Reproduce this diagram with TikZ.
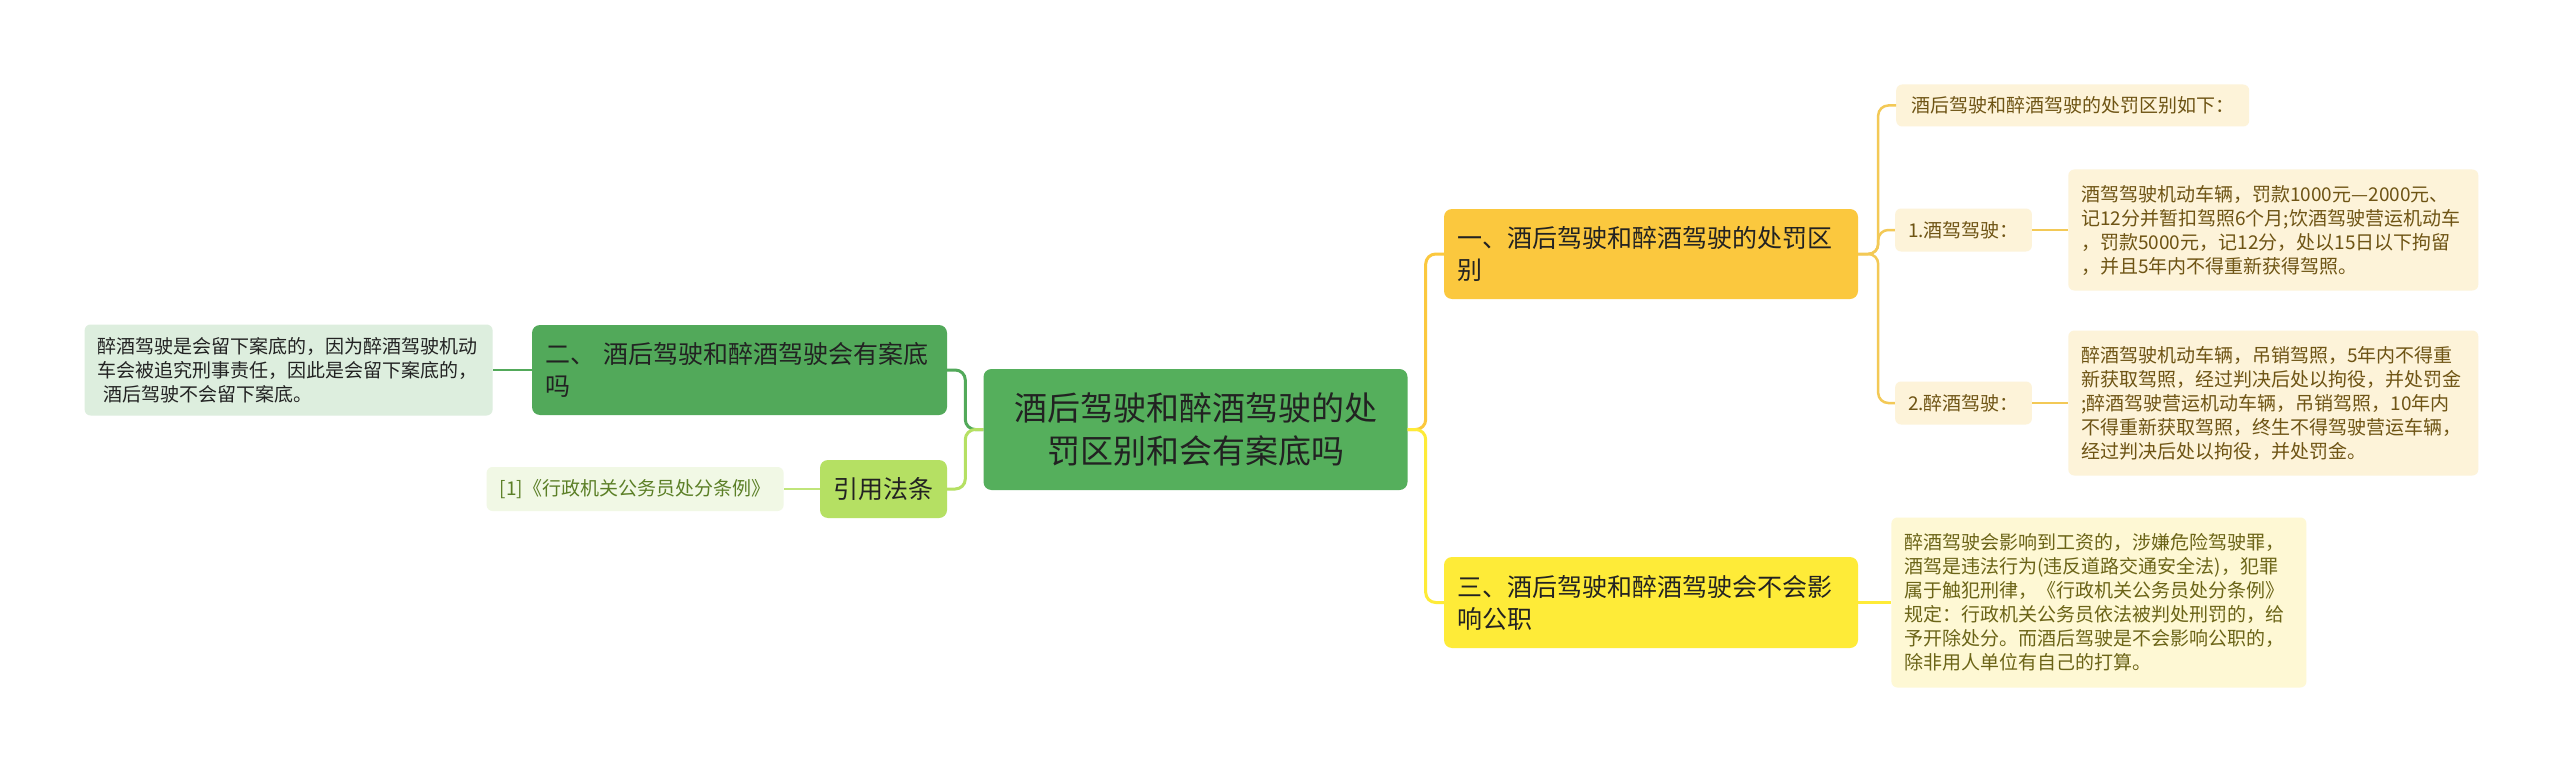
\documentclass[tikz,border=0pt]{standalone}
\usepackage{fontspec}
\newfontfamily\cjkfont{Noto Sans CJK SC}
\usetikzlibrary{positioning}

\definecolor{rootgreen}{HTML}{55AF5C}
\definecolor{secgreen}{HTML}{52A95A}
\definecolor{leafgreen}{HTML}{DDEEDE}
\definecolor{citegreen}{HTML}{B5E063}
\definecolor{citeleaf}{HTML}{F1F8E5}
\definecolor{citetext}{HTML}{5B7F26}
\definecolor{secorange}{HTML}{FBC83E}
\definecolor{secyellow}{HTML}{FEEB38}
\definecolor{creamleaf}{HTML}{FDF3D9}
\definecolor{creamtext}{HTML}{6E5414}
\definecolor{paleyellow}{HTML}{FEF8D4}
\definecolor{paletext}{HTML}{6B6417}
\definecolor{textdark}{HTML}{222222}
\definecolor{orangeline}{HTML}{F3C956}

\begin{document}
\begin{tikzpicture}[
  x=1pt, y=-1pt,
  node distance = 36pt,
  basebox/.style={rounded corners=8pt, inner xsep=13pt, inner ysep=0pt, text=textdark},
  bigfont/.style={font=\cjkfont\fontsize{33}{43}\selectfont},
  midfont/.style={font=\cjkfont\fontsize{25}{32}\selectfont},
  smallfont/.style={font=\cjkfont\fontsize{19}{24}\selectfont},
  rootnode/.style={basebox, bigfont, fill=rootgreen, align=center, text width=398pt, minimum height=121pt},
  secnode/.style={basebox, midfont, align=left, text width=388pt, minimum height=90pt},
  citenode/.style={basebox, midfont, fill=citegreen, minimum width=127pt, minimum height=58pt},
  leafnode/.style={basebox, smallfont, rounded corners=6pt},
  textleaf/.style={leafnode, align=left, text width=384pt},
  conn/.style={-, line width=3pt, rounded corners=10pt},
  thinconn/.style={-, line width=2.5pt, rounded corners=10pt}
  ]

\useasboundingbox [fill=white] (0,0) rectangle (2560,773);

\node [rootnode] (root) at (1195.5,429.5) {酒后驾驶和醉酒驾驶的处\\罚区别和会有案底吗};

\node [secnode, fill=secorange] (sec1) at (1651,254) {一、酒后驾驶和醉酒驾驶的处罚区\\别};
\node [secnode, fill=secyellow, minimum height=91pt] (sec3) at (1651,602.5) {三、酒后驾驶和醉酒驾驶会不会影\\响公职};
\node [secnode, fill=secgreen, text width=389pt] (sec2) at (739.5,370) {二、 酒后驾驶和醉酒驾驶会有案底\\吗};
\node [citenode] (cite) at (883.5,489) {引用法条};

\node [leafnode, fill=creamleaf, text=creamtext, minimum width=353pt, minimum height=42pt, anchor=west] (intro) at (1896,105.5) {酒后驾驶和醉酒驾驶的处罚区别如下：};
\node [leafnode, fill=creamleaf, text=creamtext, minimum width=133pt, minimum height=43pt] (drunk1) at (1963.5,230) {1.酒驾驾驶：};
\node [leafnode, fill=creamleaf, text=creamtext, minimum width=133pt, minimum height=43pt] (drunk2) at (1963.5,403) {2.醉酒驾驶：};

\node [textleaf, fill=creamleaf, text=creamtext, minimum height=121pt, right=36pt of drunk1] (detail1) {酒驾驾驶机动车辆，罚款1000元—2000元、\\记12分并暂扣驾照6个月;饮酒驾驶营运机动车\\，罚款5000元，记12分，处以15日以下拘留\\，并且5年内不得重新获得驾照。};
\node [textleaf, fill=creamleaf, text=creamtext, minimum height=145pt, right=36pt of drunk2] (detail2) {醉酒驾驶机动车辆，吊销驾照，5年内不得重\\新获取驾照，经过判决后处以拘役，并处罚金\\;醉酒驾驶营运机动车辆，吊销驾照，10年内\\不得重新获取驾照，终生不得驾驶营运车辆，\\经过判决后处以拘役，并处罚金。};
\node [textleaf, fill=paleyellow, text=paletext, text width=389pt, minimum height=170pt, right=33pt of sec3] (detail3) {醉酒驾驶会影响到工资的，涉嫌危险驾驶罪，\\酒驾是违法行为(违反道路交通安全法)，犯罪\\属于触犯刑律，《行政机关公务员处分条例》\\规定：行政机关公务员依法被判处刑罚的，给\\予开除处分。而酒后驾驶是不会影响公职的，\\除非用人单位有自己的打算。};

\node [textleaf, fill=leafgreen, text width=382pt, minimum height=91pt, left=39pt of sec2] (record) {醉酒驾驶是会留下案底的，因为醉酒驾驶机动\\车会被追究刑事责任，因此是会留下案底的，\\\hspace*{6pt}酒后驾驶不会留下案底。};
\node [leafnode, fill=citeleaf, text=citetext, minimum width=297pt, minimum height=44pt, left=36pt of cite] (law) {[1]《行政机关公务员处分条例》};

\draw [conn, draw=secgreen] (root.west) -- ++(-18,0) |- (sec2.east);
\draw [conn, draw=citegreen] (root.west) -- ++(-18,0) |- (cite.east);
\draw [conn, draw=secorange] (root.east) -- ++(18,0) |- (sec1.west);
\draw [conn, draw=secyellow] (root.east) -- ++(18,0) |- (sec3.west);

\draw [thinconn, draw=secgreen] (sec2.west) -- (record.east);
\draw [thinconn, draw=citegreen!85!white] (cite.west) -- (law.east);
\draw [thinconn, draw=secyellow] (sec3.east) -- (detail3.west);

\draw [thinconn, draw=orangeline] (sec1.east) -- ++(20,0) |- (intro.west);
\draw [thinconn, draw=orangeline] (sec1.east) -- ++(20,0) |- (drunk1.west);
\draw [thinconn, draw=orangeline] (sec1.east) -- ++(20,0) |- (drunk2.west);
\draw [thinconn, draw=orangeline] (drunk1.east) -- (detail1.west);
\draw [thinconn, draw=orangeline] (drunk2.east) -- (detail2.west);

\end{tikzpicture}
\end{document}
